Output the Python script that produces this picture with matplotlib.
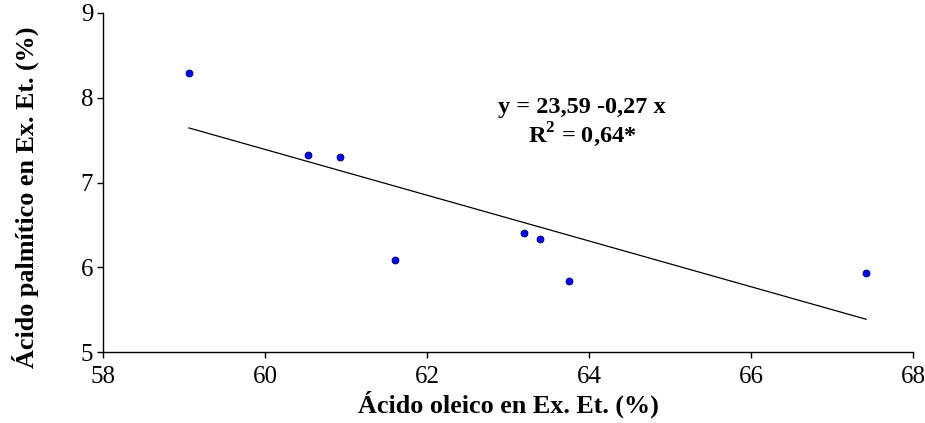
import matplotlib
matplotlib.use("Agg")
import matplotlib.pyplot as plt
import numpy as np

# data
oleico = [59.06, 60.53, 60.93, 61.60, 63.20, 63.39, 63.75, 67.42]
palmitico = [8.29, 7.32, 7.30, 6.08, 6.41, 6.33, 5.84, 5.93]
intercepto = 23.59
pendiente = -0.27

plt.rcParams['font.family'] = ['Liberation Serif', 'DejaVu Serif']
plt.rcParams['mathtext.fontset'] = 'custom'
plt.rcParams['mathtext.rm'] = 'Liberation Serif'
plt.rcParams['mathtext.bf'] = 'Liberation Serif:bold'

fig = plt.figure(figsize=(9.25, 4.23), dpi=100)
ax = fig.add_axes([0.1114, 0.1678, 0.8757, 0.8015])

ax.scatter(oleico, palmitico, s=24, color='#0000ff', edgecolors='#000066',
           linewidths=0.7, zorder=3)

xl = np.array([min(oleico), max(oleico)])
ax.plot(xl, intercepto + pendiente * xl, color='black', linewidth=0.9)

ax.text(63.91, 7.89, 'y = 23,59 -0,27 x', ha='center', va='center',
        fontsize=17.5, fontweight='bold')
ax.text(63.91, 7.56, r'R$^{\mathbf{2}}$ = 0,64*', ha='center', va='center',
        fontsize=17.5, fontweight='bold')

ax.set_xlim(58, 68)
ax.set_ylim(5, 9)
ax.set_xticks([58, 60, 62, 64, 66, 68])
ax.set_yticks([5, 6, 7, 8, 9])
for s in ['top', 'right']:
    ax.spines[s].set_visible(False)
ax.spines['left'].set_linewidth(1.0)
ax.spines['bottom'].set_linewidth(1.0)
ax.tick_params(direction='out', length=4, width=1, labelsize=18)
ax.tick_params(axis='x', pad=6)
ax.tick_params(axis='y', pad=3)

ax.set_xlabel('Ácido oleico en Ex. Et. (%)', fontsize=18.8, fontweight='bold', labelpad=2)
ax.set_ylabel('Ácido palmítico en Ex. Et. (%)', fontsize=18.8, fontweight='bold')
ax.yaxis.set_label_coords(-0.079, 0.457)

fig.savefig('out.png', dpi=100)
